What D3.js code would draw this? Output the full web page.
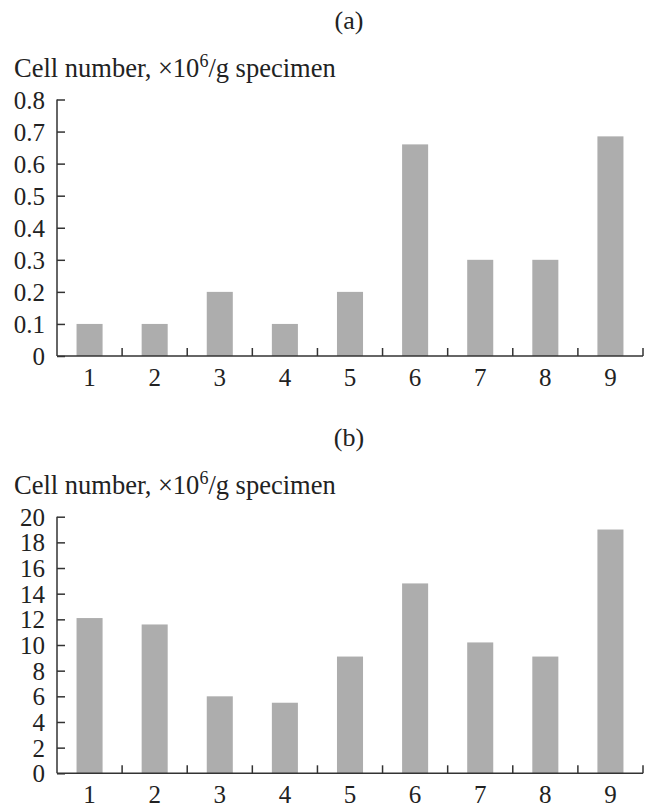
<!DOCTYPE html>
<html>
<head>
<meta charset="utf-8">
<script src="https://cdn.jsdelivr.net/npm/d3@7"></script>
<style>
  body { margin: 0; background: #fff; }
  svg { display: block; }
  text { font-family: "Liberation Serif", "Times New Roman", serif; fill: #222; }
</style>
</head>
<body>
<svg></svg>
<script>
const categories = ['1', '2', '3', '4', '5', '6', '7', '8', '9']
const valuesA = [0.1, 0.1, 0.2, 0.1, 0.2, 0.66, 0.3, 0.3, 0.685]
const valuesB = [12.1, 11.6, 6.0, 5.5, 9.1, 14.8, 10.2, 9.1, 19.0]
const ticksA = [0, 0.1, 0.2, 0.3, 0.4, 0.5, 0.6, 0.7, 0.8]
const ticksB = [0, 2, 4, 6, 8, 10, 12, 14, 16, 18, 20]

const width = 648
const height = 808
const left = 57
const right = 643

const svg = d3.select('svg')
    .attr('width', width)
    .attr('height', height)

const x = d3.scaleBand()
    .domain(categories)
    .range([left, right])
    .paddingInner(0.6)
    .paddingOuter(0.3)

// boundaries of each category, used for the little ticks on the x axis
const edges = d3.scaleBand().domain(categories).range([left, right])

function panel(label, values, ticks, fmt, top, bottom, max) {
    const y = d3.scaleLinear().domain([0, max]).range([bottom, top])

    svg.append('text')
        .attr('x', 349)
        .attr('y', top - 71)
        .attr('text-anchor', 'middle')
        .style('font-size', '26px')
        .text(label)

    const title = svg.append('text')
        .attr('x', 14)
        .attr('y', top - 23)
        .style('font-size', '26.5px')
    title.append('tspan').text('Cell number, \u00d710')
    title.append('tspan').attr('dy', -10).style('font-size', '18px').text('6')
    title.append('tspan').attr('dy', 10).text('/g specimen')

    svg.append('g')
        .selectAll('rect')
        .data(values)
        .enter()
        .append('rect')
        .attr('x', (d, i) => x(categories[i]))
        .attr('width', x.bandwidth())
        .attr('y', d => y(d))
        .attr('height', d => bottom - y(d))
        .attr('fill', '#adadad')

    // y axis
    const yAxis = svg.append('g')
        .attr('transform', `translate(${left},0)`)
        .call(d3.axisLeft(y).tickValues(ticks).tickSize(0).tickPadding(0).tickFormat(fmt))
    yAxis.select('.domain').remove()
    yAxis.selectAll('.tick line')
        .attr('x2', 8)
        .attr('stroke', '#333')
        .attr('stroke-width', 1.5)
    yAxis.selectAll('.tick text')
        .attr('x', -12)
        .attr('dy', '0.34em')
        .style('font-size', '25px')
        .attr('fill', '#222')
    yAxis.append('line')
        .attr('y1', y(max))
        .attr('y2', bottom)
        .attr('stroke', '#333')
        .attr('stroke-width', 1.5)

    // x axis
    const xAxis = svg.append('g')
        .attr('transform', `translate(0,${bottom})`)
        .call(d3.axisBottom(x).tickSize(0).tickPadding(0))
    xAxis.select('.domain').remove()
    xAxis.selectAll('.tick text')
        .attr('y', 30)
        .attr('dy', 0)
        .style('font-size', '25px')
        .attr('fill', '#222')
    xAxis.append('line')
        .attr('x1', left)
        .attr('x2', right)
        .attr('stroke', '#333')
        .attr('stroke-width', 1.5)
    xAxis.selectAll('.edge')
        .data(categories)
        .enter()
        .append('line')
        .attr('class', 'edge')
        .attr('x1', d => edges(d) + edges.bandwidth())
        .attr('x2', d => edges(d) + edges.bandwidth())
        .attr('y1', 0)
        .attr('y2', -8)
        .attr('stroke', '#333')
        .attr('stroke-width', 1.5)
}

panel('(a)', valuesA, ticksA, d3.format('~g'), 99.5, 356, 0.8)
panel('(b)', valuesB, ticksB, d3.format('d'), 516.7, 773.3, 20)
</script>
</body>
</html>
